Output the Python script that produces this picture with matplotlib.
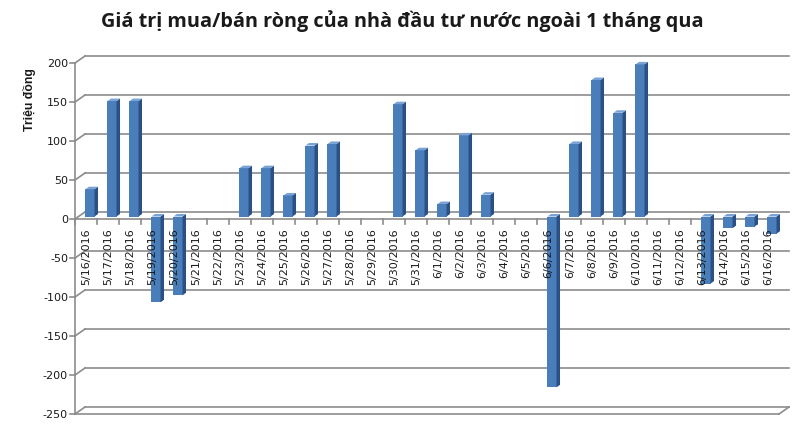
import matplotlib
matplotlib.use('Agg')
import matplotlib.pyplot as plt
from matplotlib.patches import Polygon, Rectangle

# ---------------- data ----------------
dates = ['5/16/2016', '5/17/2016', '5/18/2016', '5/19/2016', '5/20/2016', '5/21/2016',
         '5/22/2016', '5/23/2016', '5/24/2016', '5/25/2016', '5/26/2016', '5/27/2016',
         '5/28/2016', '5/29/2016', '5/30/2016', '5/31/2016', '6/1/2016', '6/2/2016',
         '6/3/2016', '6/4/2016', '6/5/2016', '6/6/2016', '6/7/2016', '6/8/2016',
         '6/9/2016', '6/10/2016', '6/11/2016', '6/12/2016', '6/13/2016', '6/14/2016',
         '6/15/2016', '6/16/2016']
values = [35, 148, 148, -110, -101, 0, 0, 62, 62, 27, 91, 93, 0, 0, 144, 85,
          16, 104, 28, 0, 0, -219, 93, 175, 133, 195, 0, 0, -86, -15, -13, -22]
yticks = [-250, -200, -150, -100, -50, 0, 50, 100, 150, 200]
title = 'Giá trị mua/bán ròng của nhà đầu tư nước ngoài 1 tháng qua'
ylabel = 'Triệu đồng'

# ---------------- layout ----------------
W, H, DPI = 810, 431, 100
fig = plt.figure(figsize=(W / DPI, H / DPI), dpi=DPI)
L, R, T, B = 75, 779, 64, 415          # front plane in pixels
ax = fig.add_axes([L / W, 1 - B / H, (R - L) / W, (B - T) / H])
n = len(dates)
x0, x1 = -0.5, n - 0.5
y0, y1 = yticks[0], yticks[-1]
ax.set_xlim(x0, x1)
ax.set_ylim(y0, y1)
ax.axis('off')

kx = (x1 - x0) / (R - L)     # data units per pixel
ky = (y1 - y0) / (B - T)

DX, DY = 10 * kx, 7 * ky     # wall depth
FX, FY = 4 * kx, 2.5 * ky    # bar front plane offset
BX, BY = 3.5 * kx, 2.5 * ky  # bar depth
bw = 0.41

grid_c = '#8c8c8c'
lw = 1.2

# back wall gridlines + left wall connectors + left ticks
for v in yticks:
    ax.plot([x0 + DX, x1 + DX], [v + DY, v + DY], color=grid_c, lw=lw, zorder=1, clip_on=False)
    ax.plot([x0, x0 + DX], [v, v + DY], color=grid_c, lw=lw, zorder=1, clip_on=False)
    ax.plot([x0 - 5 * kx, x0], [v, v], color=grid_c, lw=lw, zorder=1, clip_on=False)
    ax.text(x0 - 7 * kx, v, str(v), ha='right', va='center', fontsize=8,
            color='#1a1a1a', clip_on=False)

# front vertical axis
ax.plot([x0, x0], [y0, y1], color=grid_c, lw=lw, zorder=1, clip_on=False)
# floor
ax.plot([x0, x1], [y0, y0], color=grid_c, lw=lw, zorder=1, clip_on=False)
ax.plot([x1, x1 + DX], [y0, y0 + DY], color=grid_c, lw=lw, zorder=1, clip_on=False)

# category axis at zero
ax.plot([x0, x1], [0, 0], color=grid_c, lw=lw, zorder=2, clip_on=False)
for i in range(n + 1):
    xb = x0 + i
    ax.plot([xb, xb], [0, -5 * ky], color=grid_c, lw=lw, zorder=2, clip_on=False)

# bars
front_c, side_c, top_c = '#4A7EBB', '#2B5084', '#79A3D6'
for i, v in enumerate(values):
    if v == 0:
        continue
    cx = i + FX
    xl, xr = cx - bw / 2, cx + bw / 2
    base = FY
    lo, hi = base + min(v, 0), base + max(v, 0)
    ax.add_patch(Rectangle((xl, lo), bw, hi - lo, facecolor=front_c, edgecolor='none',
                           zorder=3, clip_on=False))
    ax.add_patch(Polygon([(xr, lo), (xr, hi), (xr + BX, hi + BY), (xr + BX, lo + BY)],
                         closed=True, facecolor=side_c, edgecolor='none', zorder=3, clip_on=False))
    ax.add_patch(Polygon([(xl, hi), (xr, hi), (xr + BX, hi + BY), (xl + BX, hi + BY)],
                         closed=True, facecolor=top_c, edgecolor='none', zorder=3, clip_on=False))

# category labels
for i, d in enumerate(dates):
    ax.text(i, -8 * ky, d, rotation=90, ha='center', va='top', fontsize=8,
            color='#1a1a1a', zorder=4, clip_on=False)

fig.text(402 / W, 1 - 21 / H, title, ha='center', va='center', fontsize=14.3,
         fontweight='bold', family=['Open Sans', 'DejaVu Sans'], color='#1a1a1a')
fig.text(30 / W, 1 - 100 / H, ylabel, rotation=90, ha='center', va='center', fontsize=8.8,
         fontweight='bold', family=['Liberation Sans', 'DejaVu Sans'], color='#1a1a1a')

fig.savefig('out.png', dpi=DPI)
